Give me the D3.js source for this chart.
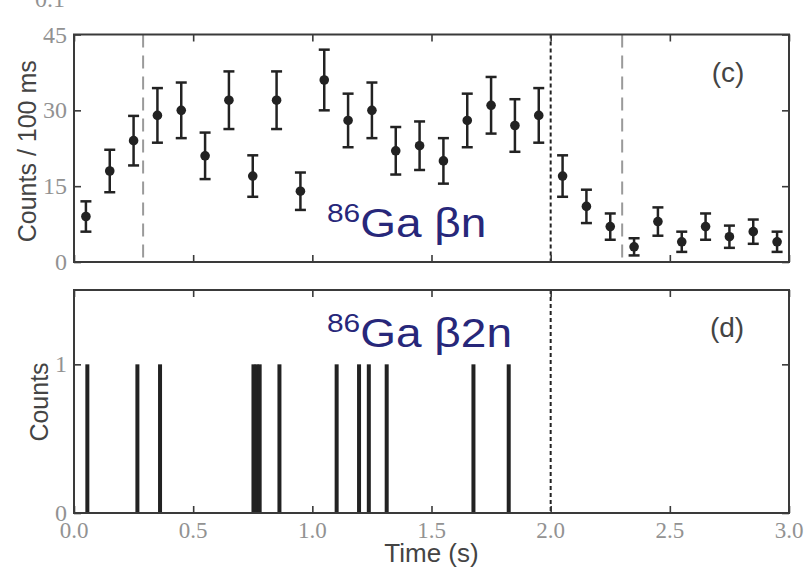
<!DOCTYPE html>
<html>
<head>
<meta charset="utf-8">
<script src="https://cdn.jsdelivr.net/npm/d3@7"></script>
<style>
  html, body { margin: 0; padding: 0; background: #fff; }
  svg { display: block; }
</style>
</head>
<body>
<svg id="chart" width="804" height="569"></svg>
<script>
// ---- data -------------------------------------------------------------
// (c) beta-delayed one-neutron counts per 100 ms bin
const binCenters = [0.05,0.15,0.25,0.35,0.45,0.55,0.65,0.75,0.85,0.95,
                    1.05,1.15,1.25,1.35,1.45,1.55,1.65,1.75,1.85,1.95,
                    2.05,2.15,2.25,2.35,2.45,2.55,2.65,2.75,2.85,2.95];
const counts     = [9,18,24,29,30,21,32,17,32,14,
                    36,28,30,22,23,20,28,31,27,29,
                    17,11,7,3,8,4,7,5,6,4];
const countErrors = [3.0,4.2,4.9,5.4,5.5,4.6,5.7,4.1,5.7,3.7,
                     6.0,5.3,5.5,4.7,4.8,4.5,5.3,5.6,5.2,5.4,
                     4.1,3.3,2.6,1.7,2.8,2.0,2.6,2.2,2.4,2.0];
// (d) individual beta-delayed two-neutron events (time in s)
const twoNeutronTimes = [0.056,0.266,0.361,0.753,0.766,0.779,0.862,
                         1.102,1.196,1.237,1.312,1.676,1.824];
const twoNeutronCounts = [1,1,1,1,1,1,1,1,1,1,1,1,1];

const xTicks      = [0.0,0.5,1.0,1.5,2.0,2.5,3.0];
const yTicksTop   = [0,15,30,45];
const yTicksBot   = [0,1];
const beamOffTime = 2.0;          // dotted line
const gateTimes   = [0.29, 2.3];  // dashed grey lines

// ---- layout -----------------------------------------------------------
const svg = d3.select("#chart");
const left = 74, right = 789;
const top1 = 34.5, bot1 = 262;
const top2 = 290, bot2 = 513;

const x  = d3.scaleLinear().domain([0, 3]).range([left, right]);
const y1 = d3.scaleLinear().domain([0, 45]).range([bot1, top1]);
const y2 = d3.scaleLinear().domain([0, 1.5]).range([bot2, top2]);

const ink = "#222";
const frameColor = "#3a3a3a";
const tickFont = "'Liberation Serif', 'DejaVu Serif', serif";
const tickColor = "#929292";
const sansFont = "'Liberation Sans', Arial, sans-serif";

// inward ticks on all four sides of a panel
function panelFrame(yScale, yTicks, topY, botY) {
  const g = svg.append("g");
  const tl = 7;
  const axB = d3.axisBottom(x).tickValues(xTicks).tickSize(-tl).tickFormat("");
  const axT = d3.axisTop(x).tickValues(xTicks).tickSize(-tl).tickFormat("");
  const axL = d3.axisLeft(yScale).tickValues(yTicks).tickSize(-tl).tickFormat("");
  const axR = d3.axisRight(yScale).tickValues(yTicks).tickSize(-tl).tickFormat("");
  g.append("g").attr("transform", `translate(0,${botY})`).call(axB);
  g.append("g").attr("transform", `translate(0,${topY})`).call(axT);
  g.append("g").attr("transform", `translate(${left},0)`).call(axL);
  g.append("g").attr("transform", `translate(${right},0)`).call(axR);
  g.selectAll(".domain").remove();
  g.selectAll(".tick line").attr("stroke", frameColor).attr("stroke-width", 1.6);
  g.append("rect")
    .attr("x", left).attr("y", topY)
    .attr("width", right - left).attr("height", botY - topY)
    .attr("fill", "none").attr("stroke", frameColor).attr("stroke-width", 2);
  // y tick labels
  g.selectAll("text.ylab").data(yTicks).enter().append("text")
    .attr("class", "ylab")
    .attr("x", left - 7).attr("y", d => yScale(d) + 8)
    .attr("text-anchor", "end")
    .attr("font-family", tickFont).attr("font-size", 24)
    .attr("fill", tickColor)
    .text(d => d);
  return g;
}

// ---- panel (c) --------------------------------------------------------
const gc = svg.append("g");
gc.selectAll("line.gate").data(gateTimes).enter().append("line")
  .attr("x1", d => x(d)).attr("x2", d => x(d))
  .attr("y1", top1).attr("y2", bot1)
  .attr("stroke", "#9a9a9a").attr("stroke-width", 2)
  .attr("stroke-dasharray", "13,8");
gc.append("line")
  .attr("x1", x(beamOffTime)).attr("x2", x(beamOffTime))
  .attr("y1", top1).attr("y2", bot1)
  .attr("stroke", ink).attr("stroke-width", 2)
  .attr("stroke-dasharray", "4,3");

const pts = binCenters.map((t, i) => ({t, c: counts[i], e: countErrors[i]}));
const eb = gc.selectAll("g.pt").data(pts).enter().append("g").attr("class", "pt");
eb.append("line")
  .attr("x1", d => x(d.t)).attr("x2", d => x(d.t))
  .attr("y1", d => y1(d.c - d.e)).attr("y2", d => y1(d.c + d.e))
  .attr("stroke", ink).attr("stroke-width", 2.5);
[-1, 1].forEach(s => {
  eb.append("line")
    .attr("x1", d => x(d.t) - 5.5).attr("x2", d => x(d.t) + 5.5)
    .attr("y1", d => y1(d.c + s * d.e)).attr("y2", d => y1(d.c + s * d.e))
    .attr("stroke", ink).attr("stroke-width", 2.5);
});
eb.append("circle")
  .attr("cx", d => x(d.t)).attr("cy", d => y1(d.c)).attr("r", 4.8)
  .attr("fill", ink);

panelFrame(y1, yTicksTop, top1, bot1);

// ---- panel (d) --------------------------------------------------------
const gd = svg.append("g");
gd.append("line")
  .attr("x1", x(beamOffTime)).attr("x2", x(beamOffTime))
  .attr("y1", top2).attr("y2", bot2)
  .attr("stroke", ink).attr("stroke-width", 2)
  .attr("stroke-dasharray", "4,3");
const events = twoNeutronTimes.map((t, i) => ({t, n: twoNeutronCounts[i]}));
gd.selectAll("rect.ev").data(events).enter().append("rect")
  .attr("class", "ev")
  .attr("x", d => x(d.t) - 2).attr("width", 4)
  .attr("y", d => y2(d.n)).attr("height", d => y2(0) - y2(d.n))
  .attr("fill", ink);

panelFrame(y2, yTicksBot, top2, bot2);

// x tick labels under the lower panel
svg.selectAll("text.xlab").data(xTicks).enter().append("text")
  .attr("x", d => x(d)).attr("y", 538)
  .attr("text-anchor", "middle")
  .attr("font-family", tickFont).attr("font-size", 23)
  .attr("fill", tickColor)
  .text(d => d.toFixed(1));

// ---- axis titles & panel tags -----------------------------------------
svg.append("text")
  .attr("transform", `translate(36,${(top1 + bot1) / 2 + 3}) rotate(-90)`)
  .attr("text-anchor", "middle")
  .attr("font-family", sansFont).attr("font-size", 25).attr("fill", "#444")
  .text("Counts / 100 ms");
svg.append("text")
  .attr("transform", `translate(48,402) rotate(-90)`)
  .attr("text-anchor", "middle")
  .attr("font-family", sansFont).attr("font-size", 25).attr("fill", "#444")
  .text("Counts");
svg.append("text")
  .attr("x", x(1.5)).attr("y", 562)
  .attr("text-anchor", "middle")
  .attr("font-family", sansFont).attr("font-size", 26).attr("fill", "#444")
  .text("Time (s)");
svg.append("text")
  .attr("x", 728).attr("y", 82).attr("text-anchor", "middle")
  .attr("font-family", sansFont).attr("font-size", 28).attr("fill", "#444")
  .text("(c)");
svg.append("text")
  .attr("x", 727).attr("y", 337).attr("text-anchor", "middle")
  .attr("font-family", sansFont).attr("font-size", 28).attr("fill", "#444")
  .text("(d)");

// fragment of the label from the panel above, cut by the top edge
svg.append("text")
  .attr("x", 65).attr("y", 7).attr("text-anchor", "end")
  .attr("font-family", tickFont).attr("font-size", 24).attr("fill", tickColor)
  .text("0.1");

// ---- nuclide labels ---------------------------------------------------
function nuclideLabel(xPos, yBase, rest) {
  const t = svg.append("text")
    .attr("transform", `translate(${xPos},${yBase}) scale(1.15,1)`)
    .attr("font-family", sansFont).attr("fill", "#27277a");
  t.append("tspan").attr("font-size", 26).attr("dy", -15).text("86");
  t.append("tspan").attr("font-size", 40).attr("dy", 15).text(rest);
}
nuclideLabel(327, 237, "Ga βn");
nuclideLabel(327, 347, "Ga β2n");
</script>
</body>
</html>
